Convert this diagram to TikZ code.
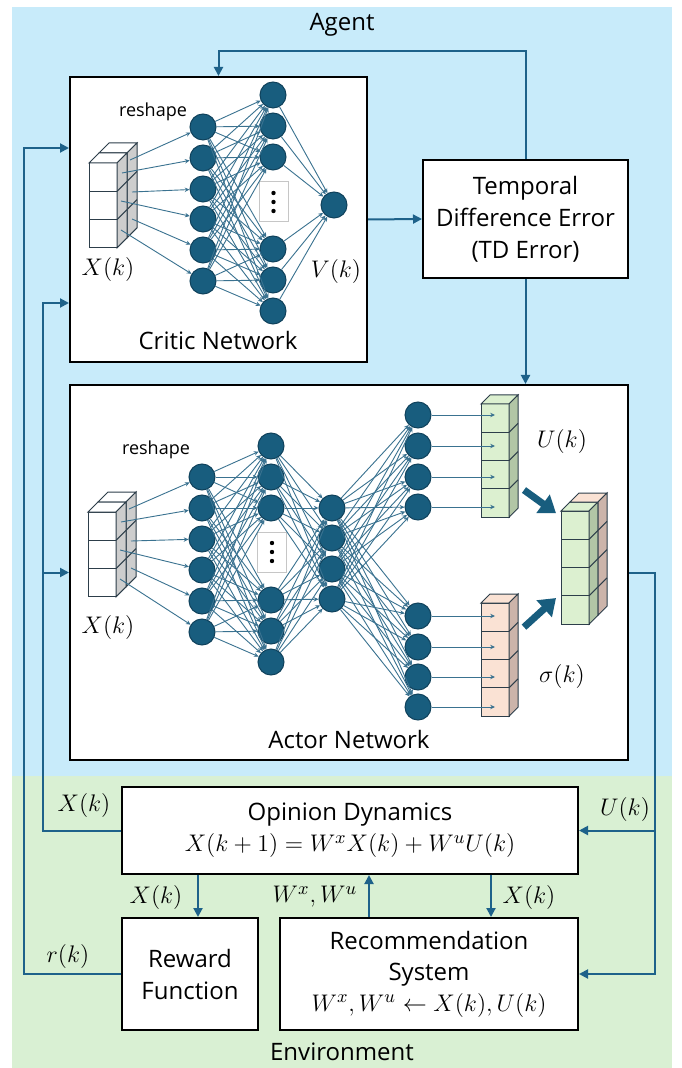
\documentclass[tikz,border=0pt]{standalone}
\usepackage{amsmath, amssymb}
\usepackage[no-math]{fontspec}
\setmainfont{Open Sans}
\usetikzlibrary{arrows.meta}

\definecolor{agentbg}{RGB}{200,235,250}
\definecolor{envbg}{RGB}{217,240,211}
\definecolor{neuron}{RGB}{24,93,126}
\definecolor{neuronedge}{RGB}{16,66,92}
\definecolor{synapse}{RGB}{58,114,144}
\definecolor{flow}{RGB}{30,98,138}
\definecolor{ufront}{RGB}{220,240,208}
\definecolor{uside}{RGB}{178,198,166}
\definecolor{sfront}{RGB}{250,226,212}
\definecolor{sside}{RGB}{204,180,170}
\definecolor{cubegray}{RGB}{205,205,205}
\definecolor{cubeline}{RGB}{45,62,74}

\newcommand{\eqsize}{\fontsize{13}{16}\selectfont}

% input tensor (3 cells, 2 deep), #1 = prefix of the arrow start points
\newcommand{\inputblock}[1]{%
  \foreach \k in {1,0}{%
    \begin{scope}[shift={(\k*10,-\k*10)}]
      \foreach \j in {0,1,2}
        \draw[cubeface, fill=white] (0,\j*28.3) rectangle ++(28,28.3);
      \draw[cubeface, fill=white] (0,0) -- ++(10,-10) -- ++(28,0) -- ++(-10,10) -- cycle;
      \draw[cubeface, fill=cubegray] (28,0) -- ++(10,-10) -- ++(0,84.9) -- ++(-10,10) -- cycle;
      \foreach \j in {1,2}
        \draw[cubeface] (28,\j*28.3) -- ++(10,-10);
    \end{scope}
  }
  \foreach \i/\dx/\dy in {1/41/-3, 2/33/10, 3/43/29, 4/32/38, 5/43/56, 6/32/67}
    \coordinate (#1-\i) at (\dx,\dy);
}

\begin{document}
\begin{tikzpicture}[x=0.5pt, y=-0.5pt,
    panel/.style={draw=black, line width=1pt, fill=white, inner sep=0pt},
    neuronnode/.style={circle, draw=neuronedge, line width=0.5pt, fill=neuron, minimum size=13pt, inner sep=0pt},
    syn/.style={draw=synapse, line width=0.45pt, -{Stealth[length=2.4pt, width=2.2pt]}},
    flowarrow/.style={draw=flow, line width=1pt, -{Triangle[length=4.5pt, width=4.5pt]}},
    tcell/.style={rectangle, draw=cubeline, line width=0.5pt, minimum width=14pt, minimum height=14.15pt, inner sep=0pt, outer sep=0pt},
    cubeface/.style={draw=cubeline, line width=0.5pt},
    bigarrow/.style={draw=neuron, line width=3.5pt, -{Triangle[length=8pt, width=11pt]}},
    lbl/.style={font=\fontsize{12}{16}\selectfont, inner sep=0pt},
    boxtxt/.style={font=\fontsize{12}{15.5}\selectfont, align=center},
    mlbl/.style={font=\eqsize, inner sep=0pt},
    smalltxt/.style={font=\fontsize{9}{11}\selectfont, inner sep=0pt},
    dotsbox/.style={draw=gray!45, fill=white, line width=0.5pt, minimum width=14.5pt, minimum height=20pt, inner sep=0pt}
]
\useasboundingbox (0,0) rectangle (681,1068);

% Backgrounds
\fill[agentbg] (12,7) rectangle (672,776);
\fill[envbg] (12,776) rectangle (672,1068);
\node[lbl] (agentlbl) at (342,25) {Agent};
\node[lbl] (envlbl) at (342,1052) {Environment};

% Agent panels
\node[panel, minimum width=148.5pt, minimum height=142.5pt] (critic) at (218.5,219.5) {};
\node[panel, boxtxt, font=\fontsize{12}{16}\selectfont, minimum width=102.5pt, minimum height=59pt] (td) at (525.5,219) {Temporal\\Difference Error\\(TD Error)};
\node[panel, minimum width=279pt, minimum height=187.5pt] (actor) at (349,572.5) {};
\node[lbl] (criticlbl) at (218,341) {Critic Network};
\node[lbl] (actorlbl) at (349,739) {Actor Network};

% Critic network
\begin{scope}[shift={(89,163)}]
  \inputblock{cin}
\end{scope}
\foreach \i/\y in {1/127,2/158,3/189,4/219,5/250,6/281}
  \node[neuronnode] (c1-\i) at (203,\y) {};
\foreach \i/\y in {1/95,2/126,3/157,4/249,5/280,6/311}
  \node[neuronnode] (c2-\i) at (273,\y) {};
\node[neuronnode] (cout) at (334,205) {};
\node[dotsbox] (cdots) at (273.5,202) {};
\foreach \d in {-9,0,9}
  \fill ([yshift=\d*0.5pt]cdots.center) circle (1.1pt);
\foreach \i in {1,...,6}
  \draw[syn] (cin-\i) -- (c1-\i);
\foreach \i in {1,...,6}
  \foreach \j in {1,...,6}
    \draw[syn] (c1-\i) -- (c2-\j);
\foreach \j in {1,...,6}
  \draw[syn] (c2-\j) -- (cout);
\node[smalltxt] (creshape) at (153,112) {reshape};
\node[mlbl] (cxk) at (108,270) {$X(k)$};
\node[mlbl] (cvk) at (336,272) {$V(k)$};

% Actor network
\begin{scope}[shift={(88,512)}]
  \inputblock{ain}
\end{scope}
\foreach \i/\y in {1/477,2/508,3/539,4/570,5/601,6/632}
  \node[neuronnode] (a1-\i) at (202,\y) {};
\foreach \i/\y in {1/446,2/477,3/508,4/600,5/631,6/662}
  \node[neuronnode] (a2-\i) at (271,\y) {};
\foreach \i/\y in {1/508,2/538,3/569,4/599}
  \node[neuronnode] (a3-\i) at (332,\y) {};
\foreach \i/\y in {1/415,2/446,3/477,4/507}
  \node[neuronnode] (a4-\i) at (418,\y) {};
\foreach \i/\y in {1/616,2/647,3/677,4/707}
  \node[neuronnode] (a5-\i) at (418,\y) {};
\node[dotsbox] (adots) at (272,552) {};
\foreach \d in {-9,0,9}
  \fill ([yshift=\d*0.5pt]adots.center) circle (1.1pt);
\foreach \i in {1,...,6}
  \draw[syn] (ain-\i) -- (a1-\i);
\foreach \i in {1,...,6}
  \foreach \j in {1,...,6}
    \draw[syn] (a1-\i) -- (a2-\j);
\foreach \i in {1,...,6}
  \foreach \j in {1,...,4}
    \draw[syn] (a2-\i) -- (a3-\j);
\foreach \i in {1,...,4}
  \foreach \j in {1,...,4}
    {\draw[syn] (a3-\i) -- (a4-\j);
     \draw[syn] (a3-\i) -- (a5-\j);}
\node[smalltxt] (areshape) at (156,450) {reshape};
\node[mlbl] (axk) at (108,627) {$X(k)$};

% Output vectors U(k) and sigma(k)
\foreach \i in {1,...,4}
  \node[tcell, fill=ufront] (u\i) at (495,{389.85+28.3*\i}) {};
\draw[cubeface, fill=ufront] (u1.north west) -- ++(9,-9) -- ++(28,0) -- (u1.north east) -- cycle;
\draw[cubeface, fill=uside] (u1.north east) -- ++(9,-9) -- ([shift={(9,-9)}]u4.south east) -- (u4.south east) -- cycle;
\foreach \i in {1,2,3}
  \draw[cubeface] (u\i.south east) -- ++(9,-9);

\foreach \i in {1,...,4}
  \node[tcell, fill=sfront] (s\i) at (495,{588.85+28.3*\i}) {};
\draw[cubeface, fill=sfront] (s1.north west) -- ++(9,-9) -- ++(28,0) -- (s1.north east) -- cycle;
\draw[cubeface, fill=sside] (s1.north east) -- ++(9,-9) -- ([shift={(9,-9)}]s4.south east) -- (s4.south east) -- cycle;
\foreach \i in {1,2,3}
  \draw[cubeface] (s\i.south east) -- ++(9,-9);

\foreach \i in {1,...,4}
  {\draw[syn] (a4-\i) -- (a4-\i -| u\i.center);
   \draw[syn] (a5-\i) -- (a5-\i -| s\i.center);}
\node[mlbl] (ulbl) at (562,442) {$U(k)$};
\node[mlbl] (slbl) at (562,676) {$\sigma(k)$};

% Combined action tensor
\foreach \i in {1,...,4}
  \node[tcell, fill=ufront] (w\i) at (575,{496.85+28.3*\i}) {};
\draw[cubeface, fill=ufront] (w1.north west) -- ++(9,-9) -- ++(28,0) -- (w1.north east) -- cycle;
\draw[cubeface, fill=uside] (w1.north east) -- ++(9,-9) -- ([shift={(9,-9)}]w4.south east) -- (w4.south east) -- cycle;
\foreach \i in {1,2,3}
  \draw[cubeface] (w\i.south east) -- ++(9,-9);
\draw[cubeface, fill=sfront] ([shift={(9,-9)}]w1.north west) -- ++(9,-9) -- ++(28,0) -- ++(-9,9) -- cycle;
\draw[cubeface, fill=sside] ([shift={(9,-9)}]w1.north east) -- ++(9,-9) -- ([shift={(18,-18)}]w4.south east) -- ([shift={(9,-9)}]w4.south east) -- cycle;
\foreach \i in {1,2,3}
  \draw[cubeface] ([shift={(9,-9)}]w\i.south east) -- ++(9,-9);
\draw[bigarrow] ([shift={(15,-13)}]u4.east) -- ([shift={(-5,-12)}]w1.west);
\draw[bigarrow] ([shift={(15,10)}]s1.east) -- ([shift={(-5,-12)}]w4.west);

% Environment blocks
\node[panel, boxtxt, minimum width=228pt, minimum height=43.5pt] (opinion) at (350,830.5) {Opinion Dynamics\\{\eqsize $X(k+1) = W^{x}X(k) + W^{u}U(k)$}};
\node[panel, boxtxt, font=\fontsize{12}{16}\selectfont, minimum width=68pt, minimum height=56pt] (reward) at (190,974) {Reward\\Function};
\node[panel, boxtxt, minimum width=149pt, minimum height=56pt] (recsys) at (429,974) {Recommendation\\System\\{\eqsize $W^{x}, W^{u} \leftarrow X(k), U(k)$}};

% Critic -> TD error -> critic / actor
\draw[flowarrow] (critic.east) -- (td.west);
\draw[flowarrow] (td.north) -- ++(0,-108) -| (critic.north);
\draw[flowarrow] (td.south) -- (td.south |- actor.north);

% Reward feedback
\draw[flowarrow] (reward.west) -- ++(-97,0) |- ([yshift=-36pt]critic.north west);
\node[mlbl] (rlbl) at (68,956) {$r(k)$};

% State feedback
\coordinate (xktap) at ([xshift=-39pt]opinion.west);
\draw[flowarrow] (opinion.west) -- (xktap) |- ([yshift=30pt]critic.south west);
\draw[flowarrow] (xktap |- actor.west) -- (actor.west);
\node[mlbl] (xklbl) at (84,805) {$X(k)$};

% Action to environment
\coordinate (uktap) at ([xshift=13pt]actor.east);
\draw[flowarrow] (actor.east) -- (uktap) |- (recsys.east);
\draw[flowarrow] (uktap |- opinion.east) -- (opinion.east);
\node[mlbl] (uklbl) at (625,809) {$U(k)$};

% Inside the environment
\coordinate (odown) at ([xshift=-76pt]opinion.south);
\coordinate (rup) at ([xshift=-30pt]recsys.north);
\coordinate (rdown) at ([xshift=70.5pt]opinion.south);
\draw[flowarrow] (odown) -- (odown |- reward.north);
\draw[flowarrow] (rup) -- (rup |- opinion.south);
\draw[flowarrow] (rdown) -- (rdown |- recsys.north);
\node[mlbl] (oxk) at (156,897) {$X(k)$};
\node[mlbl] (wlbl) at (315,897) {$W^{x}, W^{u}$};
\node[mlbl] (rxk) at (529,897) {$X(k)$};

\end{tikzpicture}
\end{document}
